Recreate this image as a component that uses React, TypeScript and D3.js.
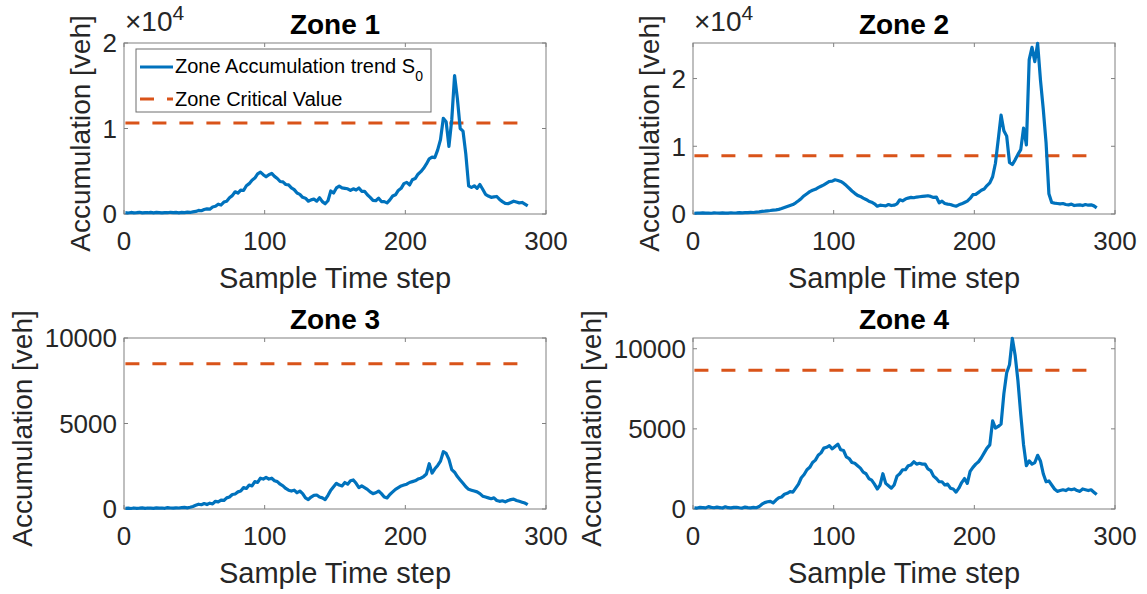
import React from "react";
import * as d3 from "d3";

// sample index of each value (every second step of the 288-step day)
const steps = d3.range(1, 288, 2);

const zone1 = [
  150, 120, 180, 140, 160, 200, 130, 170, 150, 190, 140, 180, 160, 130, 170, 150, 200, 160, 180, 140, 190, 170, 210, 180, 240,
  300, 420, 380, 520, 600, 560, 820, 900, 1150, 1050, 1400, 1500, 1900, 2150, 2600, 2450, 2800, 2750, 3300, 3550, 3950, 4200, 4700, 4900, 4600,
  4350, 4600, 4750, 4400, 4150, 3800, 3750, 3450, 3400, 3050, 2850, 2450, 2300, 1950, 1850, 1500, 1650, 1750, 1500, 1900, 1450, 1200, 1550, 2700, 2450,
  3050, 3250, 3050, 3000, 2950, 2750, 2950, 2800, 3050, 2650, 2650, 2250, 1950, 1600, 1550, 1850, 1450, 1450, 1300, 1650, 2100, 2250, 2750, 3000, 3550,
  3700, 3400, 4000, 4150, 4650, 4950, 5350, 5850, 6450, 6650, 6600, 7500, 8700, 11200, 10800, 7900, 11000, 16200, 13500, 10000, 9700, 7000, 3300, 3100, 3300,
  3000, 3450, 2900, 2300, 2100, 1950, 2000, 2050, 1700, 1450, 1250, 1200, 1350, 1500, 1400, 1300, 1350, 1150, 950,
];

const zone2 = [
  100, 150, 120, 160, 130, 140, 110, 170, 150, 130, 160, 140, 120, 180, 150, 170, 200, 160, 190, 210, 240, 220, 280, 320, 380,
  420, 470, 520, 580, 620, 680, 800, 950, 1100, 1250, 1400, 1650, 1950, 2300, 2700, 3000, 3300, 3500, 3650, 3900, 4100, 4300, 4550, 4800, 4850,
  5050, 4950, 4800, 4550, 4200, 3800, 3400, 3050, 2750, 2600, 2350, 2150, 1900, 1750, 1500, 1150, 1300, 1250, 1200, 1400, 1250, 1300, 1500, 2100, 1950,
  2200, 2350, 2450, 2400, 2500, 2550, 2600, 2650, 2700, 2600, 2450, 2500, 1650, 1900, 1550, 1450, 1400, 1250, 1150, 1350, 1500, 1700, 1900, 2300, 2850,
  2900, 3200, 3500, 3700, 4200, 4600, 5500, 7500, 11000, 14600, 12300, 11500, 7600, 7300, 8000, 8800, 9500, 12700, 10200, 22800, 24600, 22500, 25200, 19800, 15500,
  10500, 3000, 1700, 1600, 1550, 1500, 1550, 1400, 1350, 1450, 1250, 1300, 1350, 1250, 1400, 1300, 1350, 1200, 900,
];

const zone3 = [
  40, 50, 30, 60, 40, 50, 70, 40, 60, 50, 40, 70, 50, 60, 40, 80, 60, 50, 70, 60, 80, 90, 70, 100, 150,
  220, 280, 250, 320, 260, 340, 300, 450, 420, 520, 500, 650, 700, 850, 880, 1000, 1050, 1250, 1200, 1400, 1350, 1600, 1550, 1800, 1750,
  1850, 1750, 1800, 1650, 1600, 1450, 1350, 1200, 1100, 1050, 1100, 950, 1050, 900, 650, 550, 700, 800, 820, 700, 650, 550, 800, 1100, 1300,
  1500, 1400, 1350, 1550, 1450, 1650, 1700, 1500, 1250, 1350, 1250, 1150, 1000, 900, 950, 1050, 900, 700, 650, 850, 1000, 1150, 1250, 1350, 1400,
  1450, 1550, 1600, 1650, 1750, 1800, 1900, 2050, 2650, 2100, 2350, 2550, 2800, 3350, 3250, 2900, 2300, 2150, 1900, 1700, 1500, 1300, 1150, 1100, 1050,
  1000, 900, 750, 700, 650, 600, 650, 500, 450, 480, 420, 500, 550, 580, 500, 450, 400, 350, 250,
];

const zone4 = [
  80, 60, 100, 90, 70, 150, 100, 80, 120, 90, 60, 140, 80, 70, 100, 110, 80, 60, 120, 90, 70, 100, 80, 150, 300,
  400, 450, 480, 380, 560, 700, 750, 920, 980, 1080, 1050, 1300, 1550, 1950, 2150, 2450, 2600, 2900, 3050, 3350, 3500, 3800, 3850, 3950, 3750,
  3900, 4050, 3700, 3650, 3250, 3150, 2900, 2850, 2700, 2550, 2300, 2200, 1900, 1800, 1550, 1250, 1500, 2200, 1600, 1450, 1300, 1500, 2050, 2200, 2450,
  2450, 2700, 2750, 2950, 2800, 2850, 2800, 2800, 2500, 2400, 2050, 1900, 1700, 1700, 1500, 1550, 1300, 1250, 1050, 1300, 1650, 1900, 1600, 2350, 2600,
  2800, 2950, 3200, 3500, 3800, 4000, 5500, 5050, 5150, 5300, 7200, 8500, 9000, 10650, 9600, 8000, 5900, 4000, 2700, 3000, 2800, 2900, 3350, 3000, 2200,
  1700, 1750, 1500, 1250, 1100, 1150, 1200, 1150, 1250, 1200, 1250, 1150, 1100, 1250, 1200, 1150, 1200, 1050, 900,
];

const zoneTitles = ["Zone 1", "Zone 2", "Zone 3", "Zone 4"];
const criticalValues = [10650, 8600, 8500, 8650];
const yMaxes = [20000, 25250, 10000, 10670];
const xTicks = [0, 100, 200, 300];
const yTicksSci = [0, 10000, 20000];
const yTicksPlain = [0, 5000, 10000];
const legendLabels = ["Zone Accumulation trend S", "Zone Critical Value"];

const FONT = "'Liberation Sans', Arial, Helvetica, sans-serif";
const BLUE = "#0072BD";
const ORANGE = "#D95319";
const TXT = "#262626";
const AXIS = "#808080";

const PW = 422;
const PH = 171;

type PanelProps = {
  title: string;
  values: number[];
  critical: number;
  yMax: number;
  yTicks: number[];
  sci: boolean;
  left: number;
  top: number;
  labelX: number;
  legend?: boolean;
};

const Panel = ({ title, values, critical, yMax, yTicks, sci, left, top, labelX, legend }: PanelProps) => {
  const x = d3.scaleLinear().domain([0, 300]).range([left, left + PW]);
  const y = d3.scaleLinear().domain([0, yMax]).range([top + PH, top]);
  const bottom = top + PH;
  const right = left + PW;

  const line = d3
    .line<number>()
    .x((d, i) => x(steps[i]))
    .y((d) => y(d));

  const critLine = d3
    .line<number>()
    .x((d) => x(d))
    .y(() => y(critical));

  return (
    <g>
      <rect x={left} y={top} width={PW} height={PH} fill="#fff" stroke={AXIS} strokeWidth={1} />
      {xTicks.map((t) => (
        <g key={"xt" + t}>
          <line x1={x(t)} x2={x(t)} y1={bottom} y2={bottom - 4} stroke={AXIS} />
          <line x1={x(t)} x2={x(t)} y1={top} y2={top + 4} stroke={AXIS} />
          <text x={x(t)} y={bottom + 36} textAnchor="middle" fontSize={26} fill={TXT}>
            {t}
          </text>
        </g>
      ))}
      {yTicks.map((t) => (
        <g key={"yt" + t}>
          <line x1={left} x2={left + 4} y1={y(t)} y2={y(t)} stroke={AXIS} />
          <line x1={right} x2={right - 4} y1={y(t)} y2={y(t)} stroke={AXIS} />
          <text x={left - 7} y={y(t)} dy="0.36em" textAnchor="end" fontSize={26} fill={TXT}>
            {sci ? t / 10000 : t}
          </text>
        </g>
      ))}
      {sci && (
        <text x={left + 1} y={top - 12} fontSize={28} fill={TXT}>
          {"\u00d710"}
          <tspan fontSize={21} dy={-11}>4</tspan>
        </text>
      )}
      <path
        d={critLine([steps[0], steps[steps.length - 1]]) || ""}
        fill="none"
        stroke={ORANGE}
        strokeWidth={3}
        strokeDasharray="14 13"
      />
      <path d={line(values) || ""} fill="none" stroke={BLUE} strokeWidth={3.2} strokeLinejoin="round" />
      <text x={(left + right) / 2} y={top - 9} textAnchor="middle" fontSize={28} fontWeight="bold" fill="#000">
        {title}
      </text>
      <text
        transform={`translate(${labelX},${(top + bottom) / 2 + 5}) rotate(-90)`}
        textAnchor="middle"
        fontSize={28}
        fill={TXT}
      >
        Accumulation [veh]
      </text>
      <text x={(left + right) / 2} y={bottom + 74} textAnchor="middle" fontSize={29} fill={TXT}>
        Sample Time step
      </text>
      {legend && (
        <g>
          <rect x={left + 12} y={top + 6} width={295} height={63} fill="#fff" stroke="#6e6e6e" strokeWidth={1} />
          <line x1={left + 16} x2={left + 49} y1={top + 24} y2={top + 24} stroke={BLUE} strokeWidth={3} />
          <text x={left + 51} y={top + 30} fontSize={20} fill="#000">
            {legendLabels[0]}
            <tspan fontSize={14} dy={8}>0</tspan>
          </text>
          <line
            x1={left + 16}
            x2={left + 49}
            y1={top + 56}
            y2={top + 56}
            stroke={ORANGE}
            strokeWidth={3}
            strokeDasharray="14 13"
          />
          <text x={left + 51} y={top + 63} fontSize={20} fill="#000">
            {legendLabels[1]}
          </text>
        </g>
      )}
    </g>
  );
};

export default function App() {
  const zones = [zone1, zone2, zone3, zone4];
  const layout = [
    { left: 124, top: 43, labelX: 90 },
    { left: 693, top: 43, labelX: 659 },
    { left: 124, top: 338, labelX: 32 },
    { left: 693, top: 338, labelX: 601 },
  ];
  return (
    <svg
      width={1147}
      height={594}
      style={{ position: "absolute", left: 0, top: 0, background: "#fff" }}
      fontFamily={FONT}
    >
      {zones.map((vals, i) => (
        <Panel
          key={i}
          title={zoneTitles[i]}
          values={vals}
          critical={criticalValues[i]}
          yMax={yMaxes[i]}
          yTicks={i < 2 ? yTicksSci : yTicksPlain}
          sci={i < 2}
          left={layout[i].left}
          top={layout[i].top}
          labelX={layout[i].labelX}
          legend={i === 0}
        />
      ))}
    </svg>
  );
}
